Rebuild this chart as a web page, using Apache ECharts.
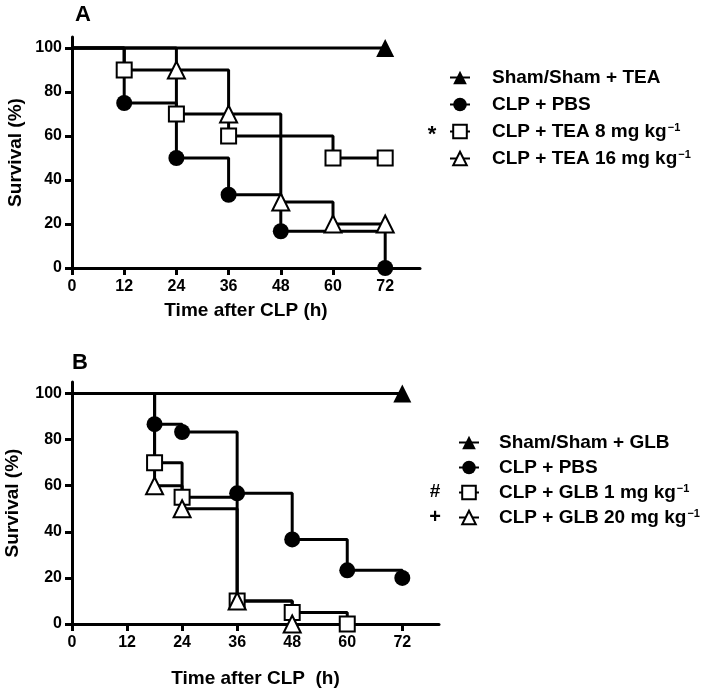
<!DOCTYPE html>
<html><head><meta charset="utf-8">
<script src="https://cdn.jsdelivr.net/npm/echarts@6/dist/echarts.min.js"></script>
<style>html,body{margin:0;padding:0;background:#fff}#c{width:709px;height:693px}</style>
</head><body><div id="c"></div>
<script>
// ---- Data ----
var xTicks = [0, 12, 24, 36, 48, 60, 72];
var yTicks = [0, 20, 40, 60, 80, 100];

// Panel A
var shamA_t = [0, 72],               shamA_s = [100, 100];
var pbsA_t  = [0, 12, 24, 36, 48, 72], pbsA_s = [100, 75, 50, 33.3, 16.7, 0];
var tea8_t  = [0, 12, 24, 36, 60, 72], tea8_s = [100, 90, 70, 60, 50, 50];
var tea16_t = [0, 24, 36, 48, 60, 72], tea16_s = [100, 90, 70, 30, 20, 20];

// Panel B
var shamB_t = [0, 72],                   shamB_s = [100, 100];
var pbsB_t  = [0, 18, 24, 36, 48, 60, 72], pbsB_s = [100, 86.7, 83.3, 56.7, 36.7, 23.3, 20];
var glb1_t  = [0, 18, 24, 36, 48, 60],     glb1_s = [100, 70, 55, 10, 5, 0];
var glb20_t = [0, 18, 24, 36, 48],         glb20_s = [100, 60, 50, 10, 0];

var namesA = ['Sham/Sham + TEA', 'CLP + PBS', 'CLP + TEA 8 mg kg\u22121', 'CLP + TEA 16 mg kg\u22121'];
var namesB = ['Sham/Sham + GLB', 'CLP + PBS', 'CLP + GLB 1 mg kg\u22121', 'CLP + GLB 20 mg kg\u22121'];

// ---- Build ----
var FONT = 'Liberation Sans, Arial, sans-serif';
function pts(t, s) {
  return t.map(function (x, i) {
    var d = { value: [x, s[i]] };
    if (i === 0) d.symbol = 'none';
    return d;
  });
}
function ser(name, t, s, symbol, filled, idx, size) {
  return {
    type: 'line', name: name, step: 'end', xAxisIndex: idx, yAxisIndex: idx,
    data: pts(t, s), symbol: symbol, symbolSize: size, showAllSymbol: true,
    lineStyle: { color: '#000', width: 3 },
    itemStyle: filled ? { color: '#000', borderColor: '#000', borderWidth: 0 }
                      : { color: '#fff', borderColor: '#000', borderWidth: 2 },
    emphasis: { disabled: true }, animation: false
  };
}
function xAx(idx, nameGap) {
  return {
    type: 'value', gridIndex: idx, min: 0, max: 80, interval: 4,
    name: 'Time after CLP ' + (idx ? ' (h)' : '(h)'), nameLocation: 'middle', nameGap: nameGap,
    nameTextStyle: { fontFamily: FONT, fontWeight: 'bold', fontSize: 19, color: '#000' },
    axisLine: { show: true, onZero: false, lineStyle: { color: '#000', width: 3 } },
    axisTick: { show: true, length: 7, customValues: xTicks, lineStyle: { color: '#000', width: 3 } },
    axisLabel: { customValues: xTicks, margin: 11, fontFamily: FONT, fontWeight: 'bold', fontSize: 16, color: '#000' },
    splitLine: { show: false }
  };
}
function yAx(idx, nameGap) {
  return {
    type: 'value', gridIndex: idx, min: 0, max: 105, interval: 5,
    name: 'Survival (%)', nameLocation: 'middle', nameGap: nameGap,
    nameTextStyle: { fontFamily: FONT, fontWeight: 'bold', fontSize: 19, color: '#000' },
    axisLine: { show: true, onZero: false, lineStyle: { color: '#000', width: 3 } },
    axisTick: { show: true, length: 7, customValues: yTicks, lineStyle: { color: '#000', width: 3 } },
    axisLabel: { customValues: yTicks, margin: 10, fontFamily: FONT, fontWeight: 'bold', fontSize: 16, color: '#000' },
    splitLine: { show: false }
  };
}
function legend(names, top, left, gap, pad) {
  return {
    data: names, orient: 'vertical', left: left, top: top, itemWidth: 20, itemHeight: 17, itemGap: gap,
    selectedMode: false,
    formatter: function (n) { return n.replace('\u22121', '{sup|\u22121}'); },
    textStyle: {
      fontFamily: FONT, fontWeight: 'bold', fontSize: 19, color: '#000', padding: [0, 0, 0, pad],
      rich: { sup: { fontFamily: FONT, fontWeight: 'bold', fontSize: 11, color: '#000', verticalAlign: 'top', padding: [0, 0, 0, 1] } }
    }
  };
}

var option = {
  animation: false,
  backgroundColor: '#fff',
  grid: [
    { left: 72, top: 37, width: 348, height: 231, containLabel: false, outerBoundsMode: 'none' },
    { left: 72, top: 382, width: 367, height: 242, containLabel: false, outerBoundsMode: 'none' }
  ],
  xAxis: [xAx(0, 33), xAx(1, 45)],
  yAxis: [yAx(0, 47), yAx(1, 50)],
  legend: [legend(namesA, 63, 444, 8, 17), legend(namesB, 428, 453, 6, 15)],
  graphic: [
    { type: 'text', x: 83, y: 15, style: { text: 'A', fontFamily: FONT, fontWeight: 'bold', fontSize: 22, fill: '#000', textAlign: 'center', textVerticalAlign: 'middle' } },
    { type: 'text', x: 80, y: 363, style: { text: 'B', fontFamily: FONT, fontWeight: 'bold', fontSize: 22, fill: '#000', textAlign: 'center', textVerticalAlign: 'middle' } },
    { type: 'text', x: 432, y: 135, style: { text: '*', fontFamily: FONT, fontWeight: 'bold', fontSize: 22, fill: '#000', textAlign: 'center', textVerticalAlign: 'middle' } },
    { type: 'text', x: 435, y: 492, style: { text: '#', fontFamily: FONT, fontWeight: 'bold', fontSize: 19, fill: '#000', textAlign: 'center', textVerticalAlign: 'middle' } },
    { type: 'text', x: 435, y: 517, style: { text: '+', fontFamily: FONT, fontWeight: 'bold', fontSize: 20, fill: '#000', textAlign: 'center', textVerticalAlign: 'middle' } }
  ],
  series: [
    ser(namesA[0], shamA_t, shamA_s, 'triangle', true, 0, 18),
    ser(namesA[1], pbsA_t, pbsA_s, 'circle', true, 0, 16),
    ser(namesA[2], tea8_t, tea8_s, 'rect', false, 0, 15),
    ser(namesA[3], tea16_t, tea16_s, 'triangle', false, 0, 17),
    ser(namesB[0], shamB_t, shamB_s, 'triangle', true, 1, 18),
    ser(namesB[1], pbsB_t, pbsB_s, 'circle', true, 1, 16),
    ser(namesB[2], glb1_t, glb1_s, 'rect', false, 1, 15),
    ser(namesB[3], glb20_t, glb20_s, 'triangle', false, 1, 17)
  ]
};
var chart = echarts.init(document.getElementById('c'), null, { renderer: 'canvas' });
chart.setOption(option);
</script>
</body></html>
